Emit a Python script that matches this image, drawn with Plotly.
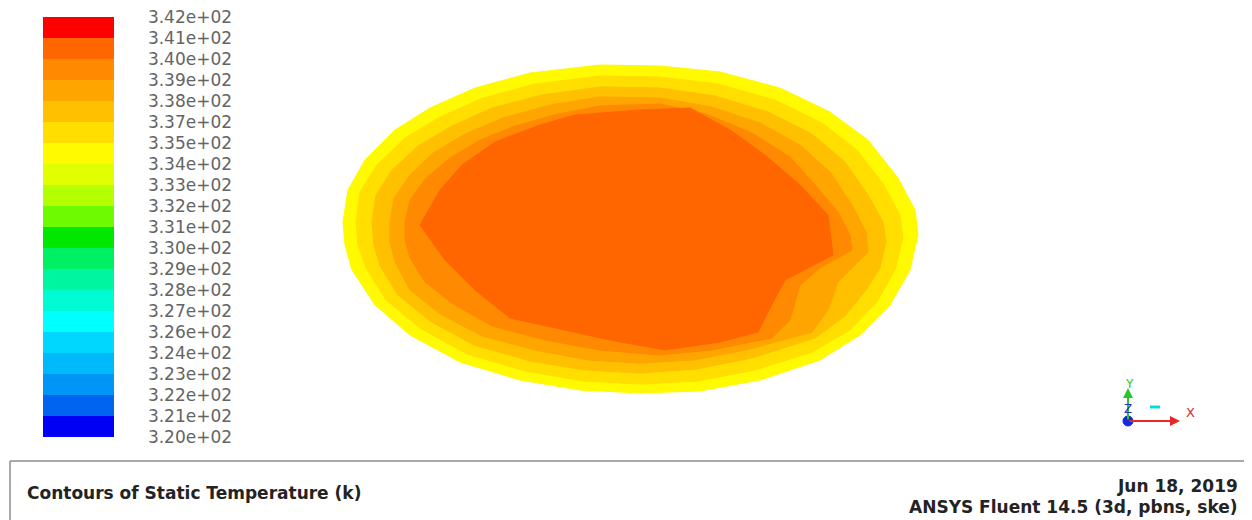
import plotly.graph_objects as go

# ---- colour map: 20 bands, 320 K .. 342 K (bottom -> top) ----
t_min = 320.0
t_max = 342.0
band_colors = [
    "rgb(0,0,245)", "rgb(0,100,240)", "rgb(0,150,245)", "rgb(0,185,250)",
    "rgb(0,215,255)", "rgb(0,255,255)", "rgb(0,250,210)", "rgb(0,245,160)",
    "rgb(0,240,100)", "rgb(0,232,0)", "rgb(110,250,0)", "rgb(180,255,0)",
    "rgb(225,255,0)", "rgb(255,250,0)", "rgb(255,222,0)", "rgb(255,192,0)",
    "rgb(255,165,0)", "rgb(255,137,0)", "rgb(255,102,0)", "rgb(255,0,0)",
]
tick_values = [320.0, 321.1, 322.2, 323.3, 324.4, 325.5, 326.6, 327.7, 328.8, 329.9, 331.0,
               332.1, 333.2, 334.3, 335.4, 336.5, 337.6, 338.7, 339.8, 340.9, 342.0]
tick_labels = ["3.20e+02", "3.21e+02", "3.22e+02", "3.23e+02", "3.24e+02", "3.26e+02",
               "3.27e+02", "3.28e+02", "3.29e+02", "3.30e+02", "3.31e+02", "3.32e+02",
               "3.33e+02", "3.34e+02", "3.35e+02", "3.37e+02", "3.38e+02", "3.39e+02",
               "3.40e+02", "3.41e+02", "3.42e+02"]

# ---- contour regions (outer -> inner), boundary vertices ----
layer_temps = [334.8, 335.9, 337.0, 338.1, 339.2, 340.4]

layer0_x = [343, 348, 365, 395, 430, 475, 530, 600, 660, 720, 780, 830, 868, 898, 915, 918, 910, 890, 860, 820, 760, 700, 640, 580, 520, 460, 410, 375, 352, 345]
layer0_y = [222, 190, 160, 130, 108, 88, 73, 65, 66, 72, 88, 112, 140, 178, 210, 235, 270, 305, 335, 360, 380, 391, 393, 390, 380, 362, 335, 305, 270, 245]

layer1_x = [356, 360, 377, 405, 440, 483, 535, 600, 660, 718, 775, 822, 857, 884, 900, 903, 895, 877, 850, 812, 755, 698, 640, 583, 525, 467, 420, 386, 366, 358]
layer1_y = [222, 192, 165, 138, 117, 98, 84, 76, 77, 84, 100, 123, 150, 185, 215, 238, 270, 302, 330, 352, 370, 381, 384, 381, 371, 354, 328, 300, 268, 245]

layer2_x = [372, 376, 392, 418, 452, 492, 542, 600, 660, 715, 768, 812, 845, 868, 883, 886, 880, 866, 845, 815, 752, 696, 640, 585, 530, 474, 430, 398, 380, 374]
layer2_y = [222, 195, 170, 146, 126, 108, 95, 87, 88, 96, 112, 134, 162, 195, 222, 242, 268, 290, 316, 338, 358, 369, 373, 370, 361, 345, 321, 295, 266, 245]

layer3_x = [390, 394, 410, 433, 465, 503, 550, 600, 660, 712, 760, 800, 830, 852, 866, 868, 852, 838, 828, 812, 750, 694, 640, 588, 535, 482, 440, 410, 395, 390]
layer3_y = [222, 198, 175, 153, 134, 118, 105, 97, 98, 107, 123, 145, 172, 205, 232, 252, 268, 282, 310, 332, 349, 360, 363, 360, 350, 336, 314, 290, 262, 242]

layer4_x = [405, 410, 426, 450, 480, 515, 558, 600, 660, 706, 752, 790, 815, 838, 850, 852, 820, 800, 790, 772, 712, 660, 600, 545, 492, 453, 425, 410, 405]
layer4_y = [222, 200, 178, 158, 140, 126, 114, 106, 104, 114, 133, 157, 185, 212, 235, 250, 268, 285, 320, 338, 350, 355, 350, 340, 326, 304, 282, 258, 240]

layer5_x = [420, 440, 462, 495, 540, 575, 640, 690, 730, 765, 800, 828, 833, 785, 770, 758, 720, 665, 610, 555, 510, 475, 445]
layer5_y = [225, 190, 165, 142, 125, 115, 110, 108, 130, 155, 185, 215, 255, 280, 308, 332, 342, 350, 340, 328, 318, 290, 260]

layers_x = [layer0_x, layer1_x, layer2_x, layer3_x, layer4_x, layer5_x]
layers_y = [layer0_y, layer1_y, layer2_y, layer3_y, layer4_y, layer5_y]

# page is 1252x520; the html body has an 8 px margin, so the figure starts at (8, 8)
PAGE_W, PAGE_H = 1252, 520
OFF = 8
W, H = PAGE_W - OFF, PAGE_H - OFF


def band_color(t):
    i = int((t - t_min) / (t_max - t_min) * len(band_colors))
    return band_colors[max(0, min(len(band_colors) - 1, i))]


n = len(band_colors)
colorscale = []
for i, c in enumerate(band_colors):
    colorscale.append([i / n, c])
    colorscale.append([(i + 1) / n, c])

fig = go.Figure()
for xs, ys, t in zip(layers_x, layers_y, layer_temps):
    c = band_color(t)
    fig.add_trace(go.Scatter(
        x=xs + [xs[0]], y=ys + [ys[0]], mode="lines", fill="toself",
        fillcolor=c, line=dict(color=c, width=1), hoverinfo="skip", showlegend=False))

# colour bar carried by the region vertices
all_x, all_y, all_t = [], [], []
for xs, ys, t in zip(layers_x, layers_y, layer_temps):
    all_x += xs
    all_y += ys
    all_t += [t] * len(xs)
fig.add_trace(go.Scatter(
    x=all_x, y=all_y, mode="markers", hoverinfo="skip", showlegend=False,
    marker=dict(size=1, opacity=0, color=all_t, cmin=t_min, cmax=t_max,
                colorscale=colorscale, showscale=True,
                colorbar=dict(
                    thickness=71, thicknessmode="pixels", len=420, lenmode="pixels",
                    x=(43 - OFF) / W, xanchor="left", y=1 - (17 - OFF) / H, yanchor="top",
                    xpad=0, ypad=0, outlinewidth=0,
                    tickmode="array", tickvals=tick_values, ticktext=tick_labels,
                    ticks="outside", ticklen=31, tickcolor="rgba(0,0,0,0)",
                    ticklabeloverflow="allow",
                    tickfont=dict(family="DejaVu Sans", size=17, color="rgb(100,100,100)"),
                ))))

# bottom title panel
shapes = [
    dict(type="line", x0=10, x1=PAGE_W, y0=461, y1=461, xref="x", yref="y",
         line=dict(color="rgb(140,140,140)", width=1.5)),
    dict(type="line", x0=10, x1=10, y0=461, y1=PAGE_H, xref="x", yref="y",
         line=dict(color="rgb(140,140,140)", width=1.5)),
    dict(type="circle", x0=1123, x1=1133, y0=416, y1=426, xref="x", yref="y",
         fillcolor="rgb(20,40,220)", line=dict(color="rgb(20,40,220)", width=1)),
    dict(type="line", x0=1150, x1=1160, y0=407, y1=407, xref="x", yref="y",
         line=dict(color="rgb(0,220,230)", width=3)),
]

txt_font = dict(family="DejaVu Sans", size=17, color="rgb(35,35,35)", weight="bold")
annotations = [
    dict(x=25, y=493, xref="x", yref="y", text="Contours of Static Temperature (k)",
         showarrow=False, xanchor="left", yanchor="middle", font=txt_font),
    dict(x=1240, y=486, xref="x", yref="y", text="Jun 18, 2019",
         showarrow=False, xanchor="right", yanchor="middle", font=txt_font),
    dict(x=1240, y=507, xref="x", yref="y", text="ANSYS Fluent 14.5 (3d, pbns, ske)",
         showarrow=False, xanchor="right", yanchor="middle", font=txt_font),
    # axis triad
    dict(x=1128, y=388, xref="x", yref="y", ax=0, ay=33, axref="pixel", ayref="pixel",
         text="", showarrow=True, arrowhead=2, arrowsize=1, arrowwidth=2,
         arrowcolor="rgb(40,200,40)"),
    dict(x=1180, y=421, xref="x", yref="y", ax=-52, ay=0, text="", showarrow=True,
         arrowhead=2, arrowsize=1, arrowwidth=2, arrowcolor="rgb(230,40,40)"),
    dict(x=1129, y=384, xref="x", yref="y", text="Y", showarrow=False,
         font=dict(family="DejaVu Sans", size=12, color="rgb(40,200,40)")),
    dict(x=1128, y=409, xref="x", yref="y", text="Z", showarrow=False,
         font=dict(family="DejaVu Sans", size=12, color="rgb(30,50,200)")),
    dict(x=1190, y=412, xref="x", yref="y", text="X", showarrow=False,
         font=dict(family="DejaVu Sans", size=13, color="rgb(220,40,40)")),
]

fig.update_layout(
    width=W, height=H,
    margin=dict(l=0, r=0, t=0, b=0, pad=0, autoexpand=False),
    paper_bgcolor="white", plot_bgcolor="white",
    xaxis=dict(range=[OFF, PAGE_W], visible=False, fixedrange=True),
    yaxis=dict(range=[PAGE_H, OFF], visible=False, fixedrange=True),
    shapes=shapes, annotations=annotations, showlegend=False,
)

fig.write_html("out.html")
